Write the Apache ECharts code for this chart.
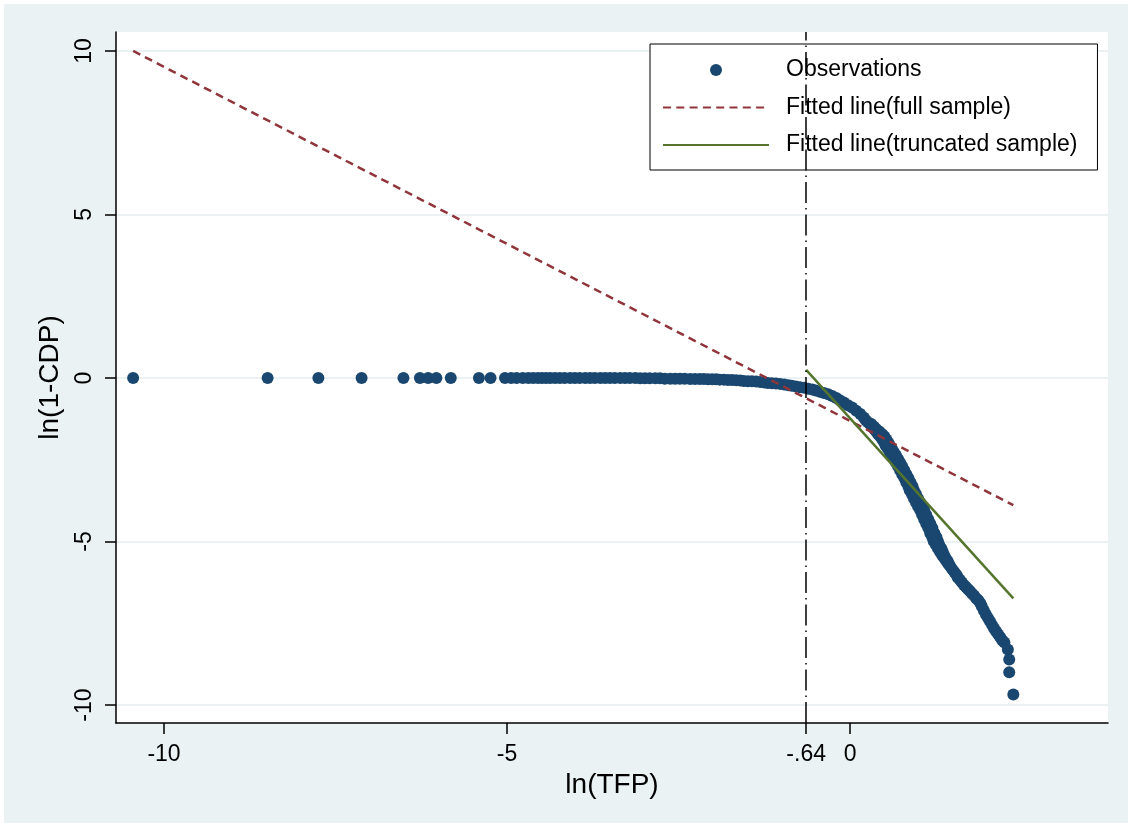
<!DOCTYPE html>
<html>
<head>
<meta charset="utf-8">
<script src="https://cdn.jsdelivr.net/npm/echarts@6.0.0/dist/echarts.min.js"></script>
<style>
  html, body { margin: 0; padding: 0; background: #fff; }
  #chart { position: absolute; left: 4px; top: 4px; width: 1124px; height: 819px; }
</style>
</head>
<body>
<div id="chart"></div>
<script>
// observations: [ln(TFP), ln(1-CDP)]
var observations = [
  [-10.45, 0], [-8.49, 0], [-7.75, 0], [-7.12, 0], [-6.51, 0], [-6.27, 0], [-6.15, 0], [-6.03, 0],
  [-5.82, 0], [-5.41, 0], [-5.24, 0], [-5.03, 0], [-4.94, 0], [-4.86, 0], [-4.77, 0], [-4.69, 0],
  [-4.62, 0], [-4.55, 0], [-4.49, 0], [-4.43, 0], [-4.37, 0],
  [-4.30, 0], [-4.23, 0], [-4.16, 0], [-4.08, 0], [-4.01, 0], [-3.94, 0], [-3.86, 0], [-3.79, 0],
  [-3.72, 0], [-3.64, 0], [-3.57, 0], [-3.50, 0], [-3.43, 0], [-3.35, 0], [-3.28, 0], [-3.21, 0],
  [-3.13, 0], [-3.06, -0.01], [-2.99, -0.01], [-2.92, -0.01], [-2.84, -0.01], [-2.77, -0.01],
  [-2.70, -0.02], [-2.62, -0.02], [-2.55, -0.02], [-2.48, -0.02], [-2.41, -0.02], [-2.33, -0.03],
  [-2.26, -0.03],
  [-2.19, -0.03], [-2.13, -0.03], [-2.07, -0.04], [-2.01, -0.04], [-1.95, -0.04], [-1.90, -0.05],
  [-1.84, -0.05], [-1.78, -0.06], [-1.72, -0.06], [-1.66, -0.07], [-1.60, -0.08], [-1.55, -0.09],
  [-1.49, -0.10], [-1.43, -0.10], [-1.37, -0.11], [-1.31, -0.12], [-1.25, -0.14], [-1.20, -0.15],
  [-1.14, -0.16], [-1.08, -0.17], [-1.02, -0.18], [-0.96, -0.20], [-0.90, -0.22], [-0.85, -0.24],
  [-0.79, -0.26], [-0.73, -0.28], [-0.67, -0.30], [-0.61, -0.33], [-0.55, -0.35], [-0.50, -0.38],
  [-0.44, -0.42], [-0.38, -0.46], [-0.32, -0.50], [-0.26, -0.55], [-0.20, -0.61], [-0.15, -0.68],
  [-0.09, -0.75], [-0.03, -0.83], [0.03, -0.90], [0.09, -1.00], [0.15, -1.10], [0.20, -1.21],
  [0.23, -1.29], [0.26, -1.35], [0.29, -1.41], [0.32, -1.49], [0.35, -1.56], [0.38, -1.64],
  [0.41, -1.72], [0.44, -1.79], [0.47, -1.88], [0.50, -1.98], [0.52, -2.07], [0.55, -2.16],
  [0.58, -2.27], [0.61, -2.37], [0.64, -2.48], [0.67, -2.59], [0.70, -2.70], [0.73, -2.82],
  [0.76, -2.94], [0.79, -3.06], [0.82, -3.19], [0.85, -3.31], [0.87, -3.43], [0.90, -3.55],
  [0.93, -3.68], [0.96, -3.80], [0.99, -3.92], [1.02, -4.04], [1.05, -4.18], [1.08, -4.32],
  [1.11, -4.46], [1.14, -4.59], [1.17, -4.75], [1.20, -4.87], [1.22, -4.99], [1.25, -5.10],
  [1.28, -5.21], [1.31, -5.31], [1.34, -5.41], [1.37, -5.50], [1.40, -5.59], [1.43, -5.68],
  [1.46, -5.76], [1.49, -5.85], [1.52, -5.93], [1.55, -6.02], [1.57, -6.10], [1.60, -6.17],
  [1.63, -6.25], [1.66, -6.33], [1.69, -6.39], [1.72, -6.46], [1.75, -6.52], [1.78, -6.60],
  [1.81, -6.66], [1.84, -6.74], [1.87, -6.80], [1.90, -6.89], [1.92, -6.98], [1.95, -7.11],
  [1.98, -7.23], [2.01, -7.34], [2.04, -7.44], [2.07, -7.55], [2.10, -7.66], [2.13, -7.75],
  [2.16, -7.84], [2.19, -7.93], [2.22, -8.03], [2.25, -8.09],
  [2.30, -8.30], [2.32, -8.61], [2.32, -9.00], [2.38, -9.68]
];

// right edge of the band where it drops steeply (the cloud is wider there)
var observationsSpread = [
  [0.31, -1.41], [0.35, -1.49], [0.38, -1.56], [0.43, -1.64],
  [0.47, -1.72], [0.50, -1.79], [0.53, -1.88], [0.56, -1.98],
  [0.58, -2.07], [0.61, -2.16], [0.64, -2.27], [0.67, -2.37], [0.70, -2.48], [0.73, -2.59],
  [0.76, -2.70], [0.79, -2.82], [0.82, -2.94], [0.85, -3.06], [0.88, -3.19], [0.91, -3.31],
  [0.93, -3.43], [0.96, -3.55], [0.99, -3.68], [1.02, -3.80], [1.05, -3.92], [1.08, -4.04],
  [1.11, -4.18], [1.14, -4.32], [1.17, -4.46], [1.20, -4.59], [1.23, -4.75], [1.26, -4.87],
  [1.28, -4.99], [1.30, -5.10], [1.33, -5.21], [1.35, -5.31], [1.37, -5.41], [1.39, -5.50],
  [1.42, -5.59], [1.44, -5.68]
];

// fitted lines (end points)
var fullFitX = [-10.45, 2.38];
var fullFitY = [10.0, -3.89];
var truncFitX = [-0.64, 2.38];
var truncFitY = [0.25, -6.74];

var cutoff = -0.64;
var xTicks = [-10, -5, -0.64, 0];
var yTicks = [-10, -5, 0, 5, 10];

var font = 'Liberation Sans, Arial, sans-serif';

// stata style: -.64 instead of -0.64
function stataNum(v) {
  return String(v).replace(/^(-?)0\./, '$1.');
}

function pairs(xs, ys) {
  return xs.map(function (x, i) { return [x, ys[i]]; });
}

var myChart = echarts.init(document.getElementById('chart'));

var option = {
  animation: false,
  backgroundColor: '#eaf2f3',
  textStyle: { fontFamily: font },
  grid: {
    left: 112,
    right: 20,
    top: 28,
    bottom: 100,
    show: true,
    backgroundColor: '#fff',
    borderWidth: 0,
    outerBoundsMode: 'none'
  },
  legend: {
    left: 646,
    top: 40,
    orient: 'vertical',
    backgroundColor: '#fff',
    borderColor: '#000',
    borderWidth: 1,
    padding: [13, 20, 12, 12],
    itemWidth: 106,
    itemHeight: 12,
    itemGap: 11.5,
    textStyle: { fontSize: 23, color: '#000', lineHeight: 26, padding: [0, 0, 0, 12] },
    data: [
      'Observations',
      // line items: no dot in the key
      { name: 'Fitted line(full sample)', itemStyle: { opacity: 0 } },
      { name: 'Fitted line(truncated sample)', itemStyle: { opacity: 0 } }
    ]
  },
  xAxis: {
    type: 'value',
    min: -10.70,
    max: 3.76,
    name: 'ln(TFP)',
    nameLocation: 'middle',
    nameGap: 42,
    nameTextStyle: { fontSize: 28, color: '#000' },
    axisLine: { onZero: false, lineStyle: { color: '#000', width: 1.5 } },
    axisTick: { customValues: xTicks, length: 11, lineStyle: { color: '#000', width: 1.5 } },
    axisLabel: {
      customValues: xTicks,
      fontSize: 23,
      color: '#000',
      margin: 20,
      formatter: stataNum
    },
    splitLine: { show: false }
  },
  yAxis: {
    type: 'value',
    min: -10.55,
    max: 10.58,
    name: 'ln(1-CDP)',
    nameLocation: 'middle',
    nameGap: 52,
    nameTextStyle: { fontSize: 28, color: '#000' },
    axisLine: { onZero: false, lineStyle: { color: '#000', width: 1.5 } },
    axisTick: { customValues: yTicks, length: 11, lineStyle: { color: '#000', width: 1.5 } },
    axisLabel: {
      customValues: yTicks,
      fontSize: 23,
      color: '#000',
      margin: 20,
      rotate: 90,
      formatter: stataNum
    },
    splitLine: { show: true, lineStyle: { color: '#eaf2f3', width: 2 } }
  },
  series: [
    {
      name: 'Observations',
      type: 'scatter',
      data: observations.concat(observationsSpread),
      symbol: 'circle',
      symbolSize: 12,
      itemStyle: { color: '#1a476f', opacity: 1 },
      markLine: {
        silent: true,
        symbol: 'none',
        label: { show: false },
        lineStyle: { color: '#000', width: 1.5, type: [21, 5, 1.5, 5] },
        data: [{ xAxis: cutoff }]
      }
    },
    {
      name: 'Fitted line(full sample)',
      type: 'line',
      data: pairs(fullFitX, fullFitY),
      symbol: 'none',
      lineStyle: { color: '#90353b', width: 2.5, type: [8, 5.3] },
      itemStyle: { color: '#90353b' }
    },
    {
      name: 'Fitted line(truncated sample)',
      type: 'line',
      data: pairs(truncFitX, truncFitY),
      symbol: 'none',
      lineStyle: { color: '#55752f', width: 2.5 },
      itemStyle: { color: '#55752f' }
    }
  ]
};

myChart.setOption(option);
</script>
</body>
</html>
